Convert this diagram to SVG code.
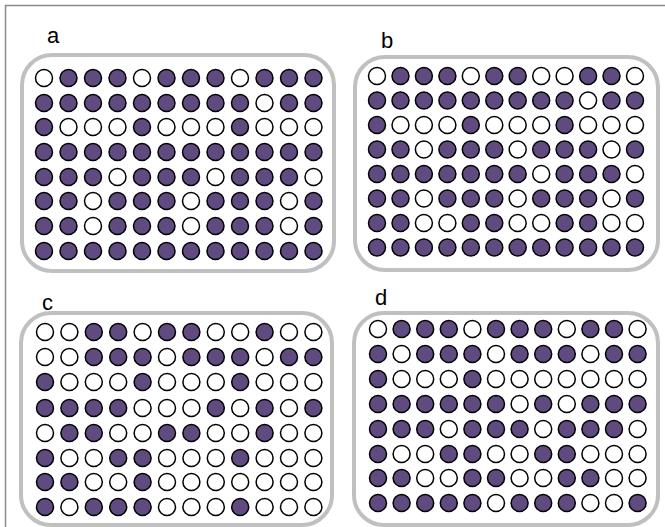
<svg xmlns="http://www.w3.org/2000/svg" width="665" height="527" viewBox="0 0 665 527">
<style>
.frame{fill:none;stroke:#8a8a8a;stroke-width:1.5}
.box{fill:#fff;stroke:#c0c0c0;stroke-width:4}
.lbl{font-family:"Liberation Sans",Arial,sans-serif;font-size:22px;fill:#000}
.f{fill:#5f4b80;stroke:#000;stroke-width:1.5}
.o{fill:#fff;stroke:#000;stroke-width:1.5}
.ra circle,.rb circle,.rc circle,.rd circle{r:8.5px}
</style>
<rect width="665" height="527" fill="#fff"/>
<path class="frame" d="M5.5,527 V5.5 H665"/>
<g id="connectors"></g>

<g id="panel-a">
<rect class="box" x="22" y="55" width="312" height="216" rx="30" ry="30"/>
<text class="lbl" x="47" y="43">a</text>
<g class="ra">
<g transform="translate(44,78)"><circle class="o" cx="0" cy="0" r="8.5"/><circle class="f" cx="24.5" cy="0" r="8.5"/><circle class="f" cx="49" cy="0" r="8.5"/><circle class="f" cx="73.5" cy="0" r="8.5"/><circle class="o" cx="98" cy="0" r="8.5"/><circle class="f" cx="122.5" cy="0" r="8.5"/><circle class="f" cx="147" cy="0" r="8.5"/><circle class="f" cx="171.5" cy="0" r="8.5"/><circle class="o" cx="196" cy="0" r="8.5"/><circle class="f" cx="220.5" cy="0" r="8.5"/><circle class="f" cx="245" cy="0" r="8.5"/><circle class="f" cx="269.5" cy="0" r="8.5"/></g>
<g transform="translate(44,103)"><circle class="f" cx="0" cy="0" r="8.5"/><circle class="f" cx="24.5" cy="0" r="8.5"/><circle class="f" cx="49" cy="0" r="8.5"/><circle class="f" cx="73.5" cy="0" r="8.5"/><circle class="f" cx="98" cy="0" r="8.5"/><circle class="f" cx="122.5" cy="0" r="8.5"/><circle class="f" cx="147" cy="0" r="8.5"/><circle class="f" cx="171.5" cy="0" r="8.5"/><circle class="f" cx="196" cy="0" r="8.5"/><circle class="o" cx="220.5" cy="0" r="8.5"/><circle class="f" cx="245" cy="0" r="8.5"/><circle class="f" cx="269.5" cy="0" r="8.5"/></g>
<g transform="translate(44,127)"><circle class="f" cx="0" cy="0" r="8.5"/><circle class="o" cx="24.5" cy="0" r="8.5"/><circle class="o" cx="49" cy="0" r="8.5"/><circle class="o" cx="73.5" cy="0" r="8.5"/><circle class="f" cx="98" cy="0" r="8.5"/><circle class="o" cx="122.5" cy="0" r="8.5"/><circle class="o" cx="147" cy="0" r="8.5"/><circle class="o" cx="171.5" cy="0" r="8.5"/><circle class="f" cx="196" cy="0" r="8.5"/><circle class="o" cx="220.5" cy="0" r="8.5"/><circle class="o" cx="245" cy="0" r="8.5"/><circle class="o" cx="269.5" cy="0" r="8.5"/></g>
<g transform="translate(44,152)"><circle class="f" cx="0" cy="0" r="8.5"/><circle class="f" cx="24.5" cy="0" r="8.5"/><circle class="f" cx="49" cy="0" r="8.5"/><circle class="f" cx="73.5" cy="0" r="8.5"/><circle class="f" cx="98" cy="0" r="8.5"/><circle class="f" cx="122.5" cy="0" r="8.5"/><circle class="f" cx="147" cy="0" r="8.5"/><circle class="f" cx="171.5" cy="0" r="8.5"/><circle class="f" cx="196" cy="0" r="8.5"/><circle class="f" cx="220.5" cy="0" r="8.5"/><circle class="f" cx="245" cy="0" r="8.5"/><circle class="f" cx="269.5" cy="0" r="8.5"/></g>
<g transform="translate(44,177)"><circle class="f" cx="0" cy="0" r="8.5"/><circle class="f" cx="24.5" cy="0" r="8.5"/><circle class="f" cx="49" cy="0" r="8.5"/><circle class="o" cx="73.5" cy="0" r="8.5"/><circle class="f" cx="98" cy="0" r="8.5"/><circle class="f" cx="122.5" cy="0" r="8.5"/><circle class="f" cx="147" cy="0" r="8.5"/><circle class="o" cx="171.5" cy="0" r="8.5"/><circle class="f" cx="196" cy="0" r="8.5"/><circle class="f" cx="220.5" cy="0" r="8.5"/><circle class="f" cx="245" cy="0" r="8.5"/><circle class="o" cx="269.5" cy="0" r="8.5"/></g>
<g transform="translate(44,201)"><circle class="f" cx="0" cy="0" r="8.5"/><circle class="f" cx="24.5" cy="0" r="8.5"/><circle class="o" cx="49" cy="0" r="8.5"/><circle class="f" cx="73.5" cy="0" r="8.5"/><circle class="f" cx="98" cy="0" r="8.5"/><circle class="f" cx="122.5" cy="0" r="8.5"/><circle class="o" cx="147" cy="0" r="8.5"/><circle class="f" cx="171.5" cy="0" r="8.5"/><circle class="f" cx="196" cy="0" r="8.5"/><circle class="f" cx="220.5" cy="0" r="8.5"/><circle class="o" cx="245" cy="0" r="8.5"/><circle class="f" cx="269.5" cy="0" r="8.5"/></g>
<g transform="translate(44,226)"><circle class="f" cx="0" cy="0" r="8.5"/><circle class="f" cx="24.5" cy="0" r="8.5"/><circle class="o" cx="49" cy="0" r="8.5"/><circle class="f" cx="73.5" cy="0" r="8.5"/><circle class="f" cx="98" cy="0" r="8.5"/><circle class="f" cx="122.5" cy="0" r="8.5"/><circle class="o" cx="147" cy="0" r="8.5"/><circle class="f" cx="171.5" cy="0" r="8.5"/><circle class="f" cx="196" cy="0" r="8.5"/><circle class="f" cx="220.5" cy="0" r="8.5"/><circle class="o" cx="245" cy="0" r="8.5"/><circle class="f" cx="269.5" cy="0" r="8.5"/></g>
<g transform="translate(44,251)"><circle class="f" cx="0" cy="0" r="8.5"/><circle class="f" cx="24.5" cy="0" r="8.5"/><circle class="f" cx="49" cy="0" r="8.5"/><circle class="f" cx="73.5" cy="0" r="8.5"/><circle class="f" cx="98" cy="0" r="8.5"/><circle class="f" cx="122.5" cy="0" r="8.5"/><circle class="f" cx="147" cy="0" r="8.5"/><circle class="f" cx="171.5" cy="0" r="8.5"/><circle class="f" cx="196" cy="0" r="8.5"/><circle class="f" cx="220.5" cy="0" r="8.5"/><circle class="f" cx="245" cy="0" r="8.5"/><circle class="f" cx="269.5" cy="0" r="8.5"/></g>
</g>
</g>

<g id="panel-b">
<rect class="box" x="355" y="57" width="303" height="213" rx="30" ry="30"/>
<text class="lbl" x="381" y="48">b</text>
<g class="rb">
<g transform="translate(377,76)"><circle class="o" cx="0" cy="0" r="8.5"/><circle class="f" cx="23.5" cy="0" r="8.5"/><circle class="f" cx="46.9" cy="0" r="8.5"/><circle class="f" cx="70.4" cy="0" r="8.5"/><circle class="o" cx="93.8" cy="0" r="8.5"/><circle class="f" cx="117.3" cy="0" r="8.5"/><circle class="f" cx="140.7" cy="0" r="8.5"/><circle class="o" cx="164.2" cy="0" r="8.5"/><circle class="o" cx="187.6" cy="0" r="8.5"/><circle class="f" cx="211.1" cy="0" r="8.5"/><circle class="f" cx="234.5" cy="0" r="8.5"/><circle class="o" cx="258" cy="0" r="8.5"/></g>
<g transform="translate(377,100.5)"><circle class="f" cx="0" cy="0" r="8.5"/><circle class="f" cx="23.5" cy="0" r="8.5"/><circle class="f" cx="46.9" cy="0" r="8.5"/><circle class="f" cx="70.4" cy="0" r="8.5"/><circle class="f" cx="93.8" cy="0" r="8.5"/><circle class="f" cx="117.3" cy="0" r="8.5"/><circle class="f" cx="140.7" cy="0" r="8.5"/><circle class="f" cx="164.2" cy="0" r="8.5"/><circle class="f" cx="187.6" cy="0" r="8.5"/><circle class="o" cx="211.1" cy="0" r="8.5"/><circle class="f" cx="234.5" cy="0" r="8.5"/><circle class="f" cx="258" cy="0" r="8.5"/></g>
<g transform="translate(377,125)"><circle class="f" cx="0" cy="0" r="8.5"/><circle class="o" cx="23.5" cy="0" r="8.5"/><circle class="o" cx="46.9" cy="0" r="8.5"/><circle class="o" cx="70.4" cy="0" r="8.5"/><circle class="f" cx="93.8" cy="0" r="8.5"/><circle class="o" cx="117.3" cy="0" r="8.5"/><circle class="o" cx="140.7" cy="0" r="8.5"/><circle class="o" cx="164.2" cy="0" r="8.5"/><circle class="f" cx="187.6" cy="0" r="8.5"/><circle class="o" cx="211.1" cy="0" r="8.5"/><circle class="o" cx="234.5" cy="0" r="8.5"/><circle class="o" cx="258" cy="0" r="8.5"/></g>
<g transform="translate(377,149.5)"><circle class="f" cx="0" cy="0" r="8.5"/><circle class="f" cx="23.5" cy="0" r="8.5"/><circle class="o" cx="46.9" cy="0" r="8.5"/><circle class="f" cx="70.4" cy="0" r="8.5"/><circle class="f" cx="93.8" cy="0" r="8.5"/><circle class="f" cx="117.3" cy="0" r="8.5"/><circle class="o" cx="140.7" cy="0" r="8.5"/><circle class="f" cx="164.2" cy="0" r="8.5"/><circle class="f" cx="187.6" cy="0" r="8.5"/><circle class="f" cx="211.1" cy="0" r="8.5"/><circle class="o" cx="234.5" cy="0" r="8.5"/><circle class="f" cx="258" cy="0" r="8.5"/></g>
<g transform="translate(377,174)"><circle class="f" cx="0" cy="0" r="8.5"/><circle class="f" cx="23.5" cy="0" r="8.5"/><circle class="f" cx="46.9" cy="0" r="8.5"/><circle class="f" cx="70.4" cy="0" r="8.5"/><circle class="f" cx="93.8" cy="0" r="8.5"/><circle class="f" cx="117.3" cy="0" r="8.5"/><circle class="f" cx="140.7" cy="0" r="8.5"/><circle class="o" cx="164.2" cy="0" r="8.5"/><circle class="f" cx="187.6" cy="0" r="8.5"/><circle class="f" cx="211.1" cy="0" r="8.5"/><circle class="f" cx="234.5" cy="0" r="8.5"/><circle class="o" cx="258" cy="0" r="8.5"/></g>
<g transform="translate(377,198.5)"><circle class="f" cx="0" cy="0" r="8.5"/><circle class="f" cx="23.5" cy="0" r="8.5"/><circle class="o" cx="46.9" cy="0" r="8.5"/><circle class="f" cx="70.4" cy="0" r="8.5"/><circle class="f" cx="93.8" cy="0" r="8.5"/><circle class="f" cx="117.3" cy="0" r="8.5"/><circle class="o" cx="140.7" cy="0" r="8.5"/><circle class="f" cx="164.2" cy="0" r="8.5"/><circle class="f" cx="187.6" cy="0" r="8.5"/><circle class="f" cx="211.1" cy="0" r="8.5"/><circle class="o" cx="234.5" cy="0" r="8.5"/><circle class="f" cx="258" cy="0" r="8.5"/></g>
<g transform="translate(377,223)"><circle class="f" cx="0" cy="0" r="8.5"/><circle class="f" cx="23.5" cy="0" r="8.5"/><circle class="o" cx="46.9" cy="0" r="8.5"/><circle class="o" cx="70.4" cy="0" r="8.5"/><circle class="f" cx="93.8" cy="0" r="8.5"/><circle class="f" cx="117.3" cy="0" r="8.5"/><circle class="o" cx="140.7" cy="0" r="8.5"/><circle class="o" cx="164.2" cy="0" r="8.5"/><circle class="f" cx="187.6" cy="0" r="8.5"/><circle class="f" cx="211.1" cy="0" r="8.5"/><circle class="o" cx="234.5" cy="0" r="8.5"/><circle class="o" cx="258" cy="0" r="8.5"/></g>
<g transform="translate(377,247.5)"><circle class="f" cx="0" cy="0" r="8.5"/><circle class="f" cx="23.5" cy="0" r="8.5"/><circle class="f" cx="46.9" cy="0" r="8.5"/><circle class="f" cx="70.4" cy="0" r="8.5"/><circle class="f" cx="93.8" cy="0" r="8.5"/><circle class="f" cx="117.3" cy="0" r="8.5"/><circle class="f" cx="140.7" cy="0" r="8.5"/><circle class="f" cx="164.2" cy="0" r="8.5"/><circle class="f" cx="187.6" cy="0" r="8.5"/><circle class="f" cx="211.1" cy="0" r="8.5"/><circle class="f" cx="234.5" cy="0" r="8.5"/><circle class="f" cx="258" cy="0" r="8.5"/></g>
</g>
</g>

<g id="panel-c">
<rect class="box" x="21" y="313" width="311" height="212" rx="30" ry="30"/>
<text class="lbl" x="42" y="310">c</text>
<g class="rc">
<g transform="translate(45,332)"><circle class="o" cx="0" cy="0" r="8.5"/><circle class="o" cx="24.4" cy="0" r="8.5"/><circle class="f" cx="48.8" cy="0" r="8.5"/><circle class="f" cx="73.2" cy="0" r="8.5"/><circle class="o" cx="97.6" cy="0" r="8.5"/><circle class="f" cx="122" cy="0" r="8.5"/><circle class="f" cx="146.4" cy="0" r="8.5"/><circle class="o" cx="170.8" cy="0" r="8.5"/><circle class="o" cx="195.2" cy="0" r="8.5"/><circle class="f" cx="219.6" cy="0" r="8.5"/><circle class="o" cx="244" cy="0" r="8.5"/><circle class="o" cx="268.4" cy="0" r="8.5"/></g>
<g transform="translate(45,357)"><circle class="o" cx="0" cy="0" r="8.5"/><circle class="o" cx="24.4" cy="0" r="8.5"/><circle class="f" cx="48.8" cy="0" r="8.5"/><circle class="f" cx="73.2" cy="0" r="8.5"/><circle class="f" cx="97.6" cy="0" r="8.5"/><circle class="o" cx="122" cy="0" r="8.5"/><circle class="f" cx="146.4" cy="0" r="8.5"/><circle class="f" cx="170.8" cy="0" r="8.5"/><circle class="f" cx="195.2" cy="0" r="8.5"/><circle class="o" cx="219.6" cy="0" r="8.5"/><circle class="f" cx="244" cy="0" r="8.5"/><circle class="f" cx="268.4" cy="0" r="8.5"/></g>
<g transform="translate(45,382)"><circle class="f" cx="0" cy="0" r="8.5"/><circle class="o" cx="24.4" cy="0" r="8.5"/><circle class="o" cx="48.8" cy="0" r="8.5"/><circle class="o" cx="73.2" cy="0" r="8.5"/><circle class="f" cx="97.6" cy="0" r="8.5"/><circle class="o" cx="122" cy="0" r="8.5"/><circle class="o" cx="146.4" cy="0" r="8.5"/><circle class="o" cx="170.8" cy="0" r="8.5"/><circle class="f" cx="195.2" cy="0" r="8.5"/><circle class="o" cx="219.6" cy="0" r="8.5"/><circle class="o" cx="244" cy="0" r="8.5"/><circle class="o" cx="268.4" cy="0" r="8.5"/></g>
<g transform="translate(45,408)"><circle class="f" cx="0" cy="0" r="8.5"/><circle class="f" cx="24.4" cy="0" r="8.5"/><circle class="f" cx="48.8" cy="0" r="8.5"/><circle class="f" cx="73.2" cy="0" r="8.5"/><circle class="o" cx="97.6" cy="0" r="8.5"/><circle class="o" cx="122" cy="0" r="8.5"/><circle class="o" cx="146.4" cy="0" r="8.5"/><circle class="f" cx="170.8" cy="0" r="8.5"/><circle class="o" cx="195.2" cy="0" r="8.5"/><circle class="f" cx="219.6" cy="0" r="8.5"/><circle class="o" cx="244" cy="0" r="8.5"/><circle class="f" cx="268.4" cy="0" r="8.5"/></g>
<g transform="translate(45,433)"><circle class="o" cx="0" cy="0" r="8.5"/><circle class="f" cx="24.4" cy="0" r="8.5"/><circle class="f" cx="48.8" cy="0" r="8.5"/><circle class="o" cx="73.2" cy="0" r="8.5"/><circle class="o" cx="97.6" cy="0" r="8.5"/><circle class="f" cx="122" cy="0" r="8.5"/><circle class="f" cx="146.4" cy="0" r="8.5"/><circle class="o" cx="170.8" cy="0" r="8.5"/><circle class="o" cx="195.2" cy="0" r="8.5"/><circle class="f" cx="219.6" cy="0" r="8.5"/><circle class="o" cx="244" cy="0" r="8.5"/><circle class="o" cx="268.4" cy="0" r="8.5"/></g>
<g transform="translate(45,458)"><circle class="f" cx="0" cy="0" r="8.5"/><circle class="o" cx="24.4" cy="0" r="8.5"/><circle class="o" cx="48.8" cy="0" r="8.5"/><circle class="f" cx="73.2" cy="0" r="8.5"/><circle class="f" cx="97.6" cy="0" r="8.5"/><circle class="o" cx="122" cy="0" r="8.5"/><circle class="o" cx="146.4" cy="0" r="8.5"/><circle class="o" cx="170.8" cy="0" r="8.5"/><circle class="f" cx="195.2" cy="0" r="8.5"/><circle class="o" cx="219.6" cy="0" r="8.5"/><circle class="o" cx="244" cy="0" r="8.5"/><circle class="o" cx="268.4" cy="0" r="8.5"/></g>
<g transform="translate(45,482)"><circle class="f" cx="0" cy="0" r="8.5"/><circle class="f" cx="24.4" cy="0" r="8.5"/><circle class="o" cx="48.8" cy="0" r="8.5"/><circle class="o" cx="73.2" cy="0" r="8.5"/><circle class="f" cx="97.6" cy="0" r="8.5"/><circle class="o" cx="122" cy="0" r="8.5"/><circle class="o" cx="146.4" cy="0" r="8.5"/><circle class="o" cx="170.8" cy="0" r="8.5"/><circle class="o" cx="195.2" cy="0" r="8.5"/><circle class="o" cx="219.6" cy="0" r="8.5"/><circle class="o" cx="244" cy="0" r="8.5"/><circle class="o" cx="268.4" cy="0" r="8.5"/></g>
<g transform="translate(45,507)"><circle class="f" cx="0" cy="0" r="8.5"/><circle class="o" cx="24.4" cy="0" r="8.5"/><circle class="f" cx="48.8" cy="0" r="8.5"/><circle class="f" cx="73.2" cy="0" r="8.5"/><circle class="f" cx="97.6" cy="0" r="8.5"/><circle class="o" cx="122" cy="0" r="8.5"/><circle class="o" cx="146.4" cy="0" r="8.5"/><circle class="o" cx="170.8" cy="0" r="8.5"/><circle class="f" cx="195.2" cy="0" r="8.5"/><circle class="o" cx="219.6" cy="0" r="8.5"/><circle class="o" cx="244" cy="0" r="8.5"/><circle class="o" cx="268.4" cy="0" r="8.5"/></g>
</g>
</g>

<g id="panel-d">
<rect class="box" x="354" y="313" width="304" height="212" rx="30" ry="30"/>
<text class="lbl" x="375" y="305">d</text>
<g class="rd">
<g transform="translate(378,329)"><circle class="o" cx="0" cy="0" r="8.5"/><circle class="f" cx="23.6" cy="0" r="8.5"/><circle class="f" cx="47.2" cy="0" r="8.5"/><circle class="f" cx="70.8" cy="0" r="8.5"/><circle class="o" cx="94.4" cy="0" r="8.5"/><circle class="f" cx="118" cy="0" r="8.5"/><circle class="f" cx="141.6" cy="0" r="8.5"/><circle class="f" cx="165.2" cy="0" r="8.5"/><circle class="o" cx="188.8" cy="0" r="8.5"/><circle class="f" cx="212.4" cy="0" r="8.5"/><circle class="f" cx="236" cy="0" r="8.5"/><circle class="o" cx="259.6" cy="0" r="8.5"/></g>
<g transform="translate(378,354)"><circle class="f" cx="0" cy="0" r="8.5"/><circle class="o" cx="23.6" cy="0" r="8.5"/><circle class="f" cx="47.2" cy="0" r="8.5"/><circle class="f" cx="70.8" cy="0" r="8.5"/><circle class="f" cx="94.4" cy="0" r="8.5"/><circle class="o" cx="118" cy="0" r="8.5"/><circle class="f" cx="141.6" cy="0" r="8.5"/><circle class="f" cx="165.2" cy="0" r="8.5"/><circle class="f" cx="188.8" cy="0" r="8.5"/><circle class="o" cx="212.4" cy="0" r="8.5"/><circle class="f" cx="236" cy="0" r="8.5"/><circle class="f" cx="259.6" cy="0" r="8.5"/></g>
<g transform="translate(378,379)"><circle class="f" cx="0" cy="0" r="8.5"/><circle class="o" cx="23.6" cy="0" r="8.5"/><circle class="o" cx="47.2" cy="0" r="8.5"/><circle class="o" cx="70.8" cy="0" r="8.5"/><circle class="f" cx="94.4" cy="0" r="8.5"/><circle class="o" cx="118" cy="0" r="8.5"/><circle class="o" cx="141.6" cy="0" r="8.5"/><circle class="o" cx="165.2" cy="0" r="8.5"/><circle class="o" cx="188.8" cy="0" r="8.5"/><circle class="o" cx="212.4" cy="0" r="8.5"/><circle class="o" cx="236" cy="0" r="8.5"/><circle class="o" cx="259.6" cy="0" r="8.5"/></g>
<g transform="translate(378,404)"><circle class="f" cx="0" cy="0" r="8.5"/><circle class="f" cx="23.6" cy="0" r="8.5"/><circle class="f" cx="47.2" cy="0" r="8.5"/><circle class="f" cx="70.8" cy="0" r="8.5"/><circle class="f" cx="94.4" cy="0" r="8.5"/><circle class="f" cx="118" cy="0" r="8.5"/><circle class="o" cx="141.6" cy="0" r="8.5"/><circle class="f" cx="165.2" cy="0" r="8.5"/><circle class="o" cx="188.8" cy="0" r="8.5"/><circle class="f" cx="212.4" cy="0" r="8.5"/><circle class="f" cx="236" cy="0" r="8.5"/><circle class="f" cx="259.6" cy="0" r="8.5"/></g>
<g transform="translate(378,429)"><circle class="f" cx="0" cy="0" r="8.5"/><circle class="f" cx="23.6" cy="0" r="8.5"/><circle class="f" cx="47.2" cy="0" r="8.5"/><circle class="o" cx="70.8" cy="0" r="8.5"/><circle class="f" cx="94.4" cy="0" r="8.5"/><circle class="f" cx="118" cy="0" r="8.5"/><circle class="f" cx="141.6" cy="0" r="8.5"/><circle class="o" cx="165.2" cy="0" r="8.5"/><circle class="f" cx="188.8" cy="0" r="8.5"/><circle class="f" cx="212.4" cy="0" r="8.5"/><circle class="f" cx="236" cy="0" r="8.5"/><circle class="o" cx="259.6" cy="0" r="8.5"/></g>
<g transform="translate(378,454)"><circle class="f" cx="0" cy="0" r="8.5"/><circle class="o" cx="23.6" cy="0" r="8.5"/><circle class="o" cx="47.2" cy="0" r="8.5"/><circle class="f" cx="70.8" cy="0" r="8.5"/><circle class="f" cx="94.4" cy="0" r="8.5"/><circle class="o" cx="118" cy="0" r="8.5"/><circle class="o" cx="141.6" cy="0" r="8.5"/><circle class="f" cx="165.2" cy="0" r="8.5"/><circle class="f" cx="188.8" cy="0" r="8.5"/><circle class="o" cx="212.4" cy="0" r="8.5"/><circle class="o" cx="236" cy="0" r="8.5"/><circle class="o" cx="259.6" cy="0" r="8.5"/></g>
<g transform="translate(378,478)"><circle class="f" cx="0" cy="0" r="8.5"/><circle class="f" cx="23.6" cy="0" r="8.5"/><circle class="o" cx="47.2" cy="0" r="8.5"/><circle class="o" cx="70.8" cy="0" r="8.5"/><circle class="f" cx="94.4" cy="0" r="8.5"/><circle class="f" cx="118" cy="0" r="8.5"/><circle class="o" cx="141.6" cy="0" r="8.5"/><circle class="o" cx="165.2" cy="0" r="8.5"/><circle class="f" cx="188.8" cy="0" r="8.5"/><circle class="f" cx="212.4" cy="0" r="8.5"/><circle class="o" cx="236" cy="0" r="8.5"/><circle class="o" cx="259.6" cy="0" r="8.5"/></g>
<g transform="translate(378,503)"><circle class="f" cx="0" cy="0" r="8.5"/><circle class="f" cx="23.6" cy="0" r="8.5"/><circle class="f" cx="47.2" cy="0" r="8.5"/><circle class="f" cx="70.8" cy="0" r="8.5"/><circle class="f" cx="94.4" cy="0" r="8.5"/><circle class="o" cx="118" cy="0" r="8.5"/><circle class="f" cx="141.6" cy="0" r="8.5"/><circle class="f" cx="165.2" cy="0" r="8.5"/><circle class="f" cx="188.8" cy="0" r="8.5"/><circle class="o" cx="212.4" cy="0" r="8.5"/><circle class="o" cx="236" cy="0" r="8.5"/><circle class="f" cx="259.6" cy="0" r="8.5"/></g>
</g>
</g>
</svg>
